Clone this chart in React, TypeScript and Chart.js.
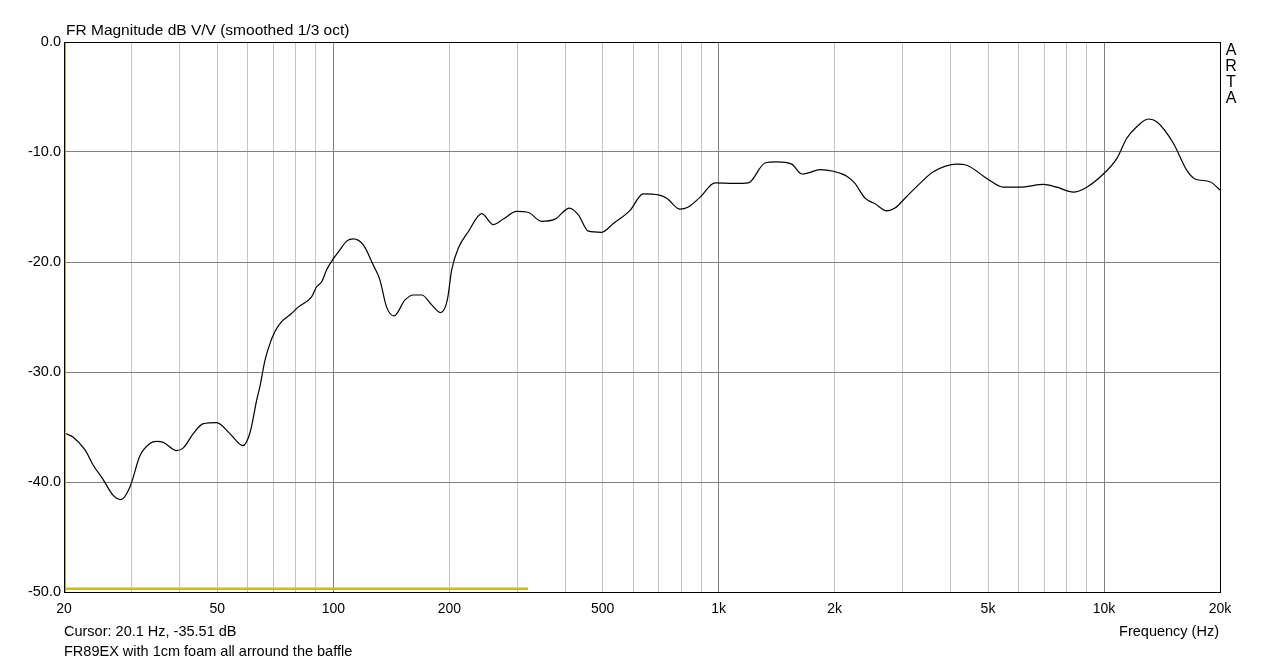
import React, { useEffect, useRef } from "react";
import { Chart, registerables } from "chart.js";

Chart.register(...registerables);

const FREQ_HZ = [
  20.0, 20.2, 21.1, 22.7, 23.8, 25.3, 26.8, 28.1, 29.7, 31.5, 33.4, 34.8, 36.2, 39.2, 40.8, 43.3, 46.0, 49.8,
  53.9, 58.2, 60.8, 63.3, 64.5, 66.5, 68.5, 70.6, 73.5, 77.2, 81.1, 87.9, 90.5, 93.3, 96.1, 100, 104, 108.3,
  112.7, 119.6, 127, 132, 137.5, 143.7, 153.5, 161.3, 169.6, 180, 190, 197.6, 202.9, 211, 224, 242.7, 260,
  276, 299, 321, 347, 376, 410, 432, 459, 497, 533, 589, 637, 697, 733, 794, 834, 895, 979, 1092, 1194, 1319,
  1414, 1547, 1643, 1709, 1832, 1984, 2150, 2258, 2398, 2546, 2729, 2868, 3045, 3331, 3606, 4148, 4404,
  4962, 5478, 6053, 6960, 7538, 8323, 9020, 9960, 10792, 11456, 12162, 13032, 13703, 15136, 16390, 17226,
  18842, 20000,
];
const MAG_DB = [
  -35.5, -35.6, -35.9, -37.1, -38.45, -39.8, -41.2, -41.6, -40.4, -37.6, -36.5, -36.3, -36.4, -37.15, -36.9,
  -35.6, -34.7, -34.6, -35.6, -36.7, -35.5, -32.5, -31.3, -28.9, -27.4, -26.3, -25.4, -24.8, -24.1, -23.15,
  -22.25, -21.8, -20.7, -19.7, -18.9, -18.1, -17.9, -18.45, -20.3, -21.6, -24.1, -24.9, -23.45, -23.0, -23.0,
  -23.9, -24.6, -23.45, -20.7, -18.75, -17.25, -15.6, -16.6, -16.1, -15.4, -15.5, -16.3, -16.1, -15.1, -15.7,
  -17.2, -17.3, -16.5, -15.3, -13.8, -13.9, -14.2, -15.2, -15.0, -14.1, -12.8, -12.85, -12.8, -11.0, -10.9,
  -11.1, -12.0, -11.9, -11.6, -11.75, -12.2, -12.85, -14.2, -14.7, -15.35, -15.1, -14.2, -12.85, -11.8, -11.1,
  -11.2, -12.4, -13.2, -13.2, -12.95, -13.2, -13.65, -13.2, -12.0, -10.6, -8.75, -7.7, -7.0, -7.25, -9.2,
  -11.65, -12.45, -12.7, -13.45,
];

const MARKER_FREQ = [20, 320];
const MARKER_DB = [-49.7, -49.7];

const GRID_FREQS = [
  20, 30, 40, 50, 60, 70, 80, 90, 100, 200, 300, 400, 500, 600, 700, 800, 900, 1000, 2000, 3000, 4000, 5000,
  6000, 7000, 8000, 9000, 10000, 20000,
];
const MAJOR_FREQS = [100, 1000, 10000];
const X_LABELS: Record<number, string> = {
  20: "20", 50: "50", 100: "100", 200: "200", 500: "500", 1000: "1k", 2000: "2k", 5000: "5k", 10000: "10k",
  20000: "20k",
};

const TITLE = "FR Magnitude dB V/V (smoothed 1/3 oct)";
const CURSOR_TEXT = "Cursor: 20.1 Hz, -35.51 dB";
const CURSOR_FREQ = 20.1;
const NOTE_TEXT = "FR89EX with 1cm foam all arround the baffle";
const X_TITLE = "Frequency (Hz)";
const SIDE_LETTERS = ["A", "R", "T", "A"];

const FONT = "'Liberation Sans', Arial, sans-serif";

const textPlugin = {
  id: "artaText",
  afterDraw(chart: any) {
    const { ctx, chartArea, scales } = chart;
    ctx.save();
    ctx.strokeStyle = "#000";
    ctx.lineWidth = 1;
    ctx.strokeRect(chartArea.left + 0.5, chartArea.top + 0.5, chartArea.right - chartArea.left, chartArea.bottom - chartArea.top);
    const cx = Math.round(scales.x.getPixelForValue(CURSOR_FREQ)) + 0.5;
    ctx.strokeStyle = "#b8b028";
    ctx.beginPath();
    ctx.moveTo(cx, chartArea.top + 1);
    ctx.lineTo(cx, chartArea.bottom);
    ctx.stroke();

    ctx.fillStyle = "#000";
    ctx.textBaseline = "middle";
    ctx.font = `15.5px ${FONT}`;
    ctx.textAlign = "left";
    ctx.fillText(TITLE, 66, 31);
    ctx.font = `14.5px ${FONT}`;
    ctx.fillText(CURSOR_TEXT, 64, 632);
    ctx.fillText(NOTE_TEXT, 64, 652);
    ctx.textAlign = "right";
    ctx.fillText(X_TITLE, 1219, 632);
    ctx.textAlign = "center";
    ctx.font = `16px ${FONT}`;
    const ys = [51, 67, 83, 99];
    SIDE_LETTERS.forEach((l, i) => ctx.fillText(l, 1231, ys[i]));
    ctx.restore();
  },
};

export default function App() {
  const ref = useRef<HTMLCanvasElement | null>(null);
  useEffect(() => {
    if (!ref.current) return;
    const chart = new Chart(ref.current, {
      type: "line",
      data: {
        datasets: [
          {
            data: FREQ_HZ.map((f, i) => ({ x: f, y: MAG_DB[i] })),
            borderColor: "#000",
            borderWidth: 1.2,
            pointRadius: 0,
            cubicInterpolationMode: "monotone",
            order: 0,
          },
          {
            data: MARKER_FREQ.map((f, i) => ({ x: f, y: MARKER_DB[i] })),
            borderColor: "#c4bc20",
            borderWidth: 2.5,
            pointRadius: 0,
            order: 1,
          },
        ],
      },
      options: {
        animation: false,
        responsive: false,
        maintainAspectRatio: false,
        layout: { padding: { top: 42, right: 64, left: 0, bottom: 0 } },
        plugins: { legend: { display: false }, tooltip: { enabled: false }, title: { display: false } },
        scales: {
          x: {
            type: "logarithmic",
            min: 20,
            max: 20000,
            border: { display: false },
            afterFit: (s: any) => {
              s.height = 72;
            },
            afterBuildTicks: (s: any) => {
              s.ticks = GRID_FREQS.map((v) => ({ value: v }));
            },
            grid: {
              drawTicks: false,
              color: (c: any) => (MAJOR_FREQS.includes(c.tick?.value) ? "#808080" : "#c4c4c4"),
              lineWidth: 1,
            },
            ticks: {
              autoSkip: false,
              maxRotation: 0,
              padding: 9,
              color: "#000",
              font: { family: FONT, size: 14 },
              callback: (v: any) => X_LABELS[Number(v)] ?? "",
            },
          },
          y: {
            type: "linear",
            min: -50,
            max: 0,
            border: { display: false },
            afterFit: (s: any) => {
              s.width = 64;
            },
            grid: { drawTicks: false, color: "#808080", lineWidth: 1 },
            ticks: {
              stepSize: 10,
              padding: 3,
              color: "#000",
              font: { family: FONT, size: 14.5 },
              callback: (v: any) => Number(v).toFixed(1),
            },
          },
        },
      },
      plugins: [textPlugin],
    });
    return () => chart.destroy();
  }, []);
  return (
    <div style={{ position: "absolute", left: 0, top: 0, width: 1284, height: 664, background: "#fff" }}>
      <canvas ref={ref} width={1284} height={664} style={{ width: 1284, height: 664, display: "block" }} />
    </div>
  );
}
